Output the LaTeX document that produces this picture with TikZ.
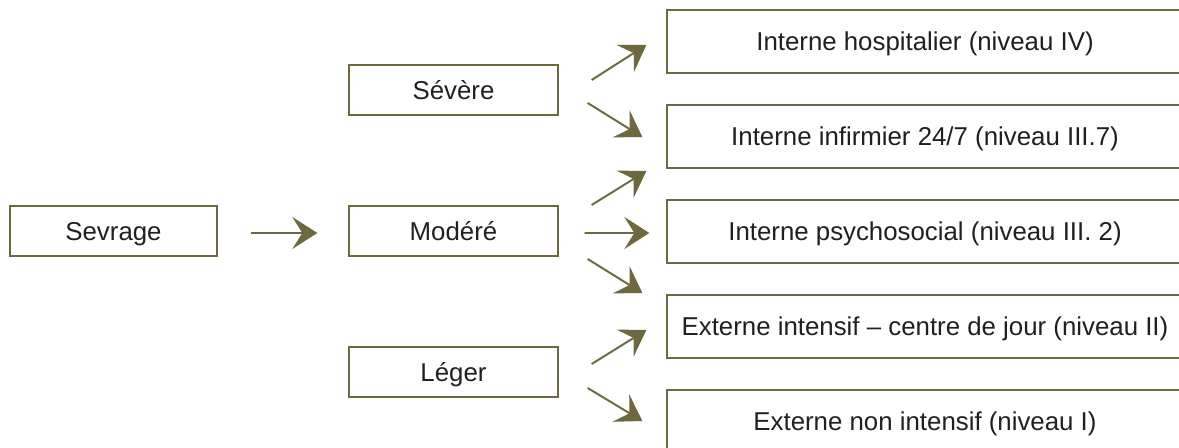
\documentclass[tikz,border=0pt]{standalone}
\usepackage{fontspec}
\setmainfont{Liberation Sans}
\usetikzlibrary{positioning, calc, arrows.meta}
\definecolor{olive}{RGB}{110,104,62}
\definecolor{ink}{RGB}{35,31,32}

\begin{document}
\begin{tikzpicture}[
  x=0.02cm, y=-0.02cm,
  >={Stealth[length=0.5cm, width=0.64cm, inset=0.2cm]},
  arr/.style  = {->, draw=olive, fill=olive, line width=1.1pt},
  lvl/.style  = {draw=olive, line width=0.8pt, rectangle, minimum height=1.0cm,
                 minimum width=4.18cm, inner sep=0pt, text=ink,
                 text height=10.5pt, text depth=0pt,
                 font=\fontsize{14.7}{17}\selectfont},
  care/.style = {lvl, minimum height=1.26cm, minimum width=10.32cm},
]
  \clip (0,0) rectangle (1179,448);
  \fill[white] (0,0) rectangle (1179,448);

  % ── severity ──────────────────────────────────────────────────────────
  \node[lvl, minimum width=4.14cm] (sevr) at (113.5,231) {Sevrage};
  \node[lvl] (sev) at (453.5, 90)  {Sévère};
  \node[lvl] (mod) at (453.5,231)  {Modéré};
  \node[lvl] (leg) at (453.5,372)  {Léger};

  % ── levels of care ────────────────────────────────────────────────────
  \node[care] (hosp) at (925, 41.5)  {Interne hospitalier (niveau IV)};
  \node[care] (infi) at (925,136.5)  {Interne infirmier 24/7 (niveau III.7)};
  \node[care] (psy)  at (925,231.5)  {Interne psychosocial (niveau III. 2)};
  \node[care] (ext)  at (925,326.5)  {Externe intensif -- centre de jour (niveau II)};
  \node[care] (nint) at (925,421.5)  {Externe non intensif (niveau I)};

  % ── arrows ────────────────────────────────────────────────────────────
  \draw[arr] ([shift={(33,2)}]sevr.east) -- ([shift={(-31,2)}]mod.west);

  \draw[arr] ([shift={(33,-10)}]sev.east) -- ([shift={(-20,3.5)}]hosp.west);
  \draw[arr] ([shift={(29,13)}]sev.east)  -- ([shift={(-24,0.5)}]infi.west);

  \draw[arr] ([shift={(33,-26)}]mod.east) -- ([shift={(-20,-60.5)}]psy.west);
  \draw[arr] ([shift={(26,2)}]mod.east)   -- ([shift={(-17,1.5)}]psy.west);
  \draw[arr] ([shift={(29,28)}]mod.east)  -- ([shift={(-24,61.5)}]psy.west);

  \draw[arr] ([shift={(33,-8)}]leg.east)  -- ([shift={(-20,3.5)}]ext.west);
  \draw[arr] ([shift={(29,16)}]leg.east)  -- ([shift={(-24,-0.5)}]nint.west);

\end{tikzpicture}
\end{document}
